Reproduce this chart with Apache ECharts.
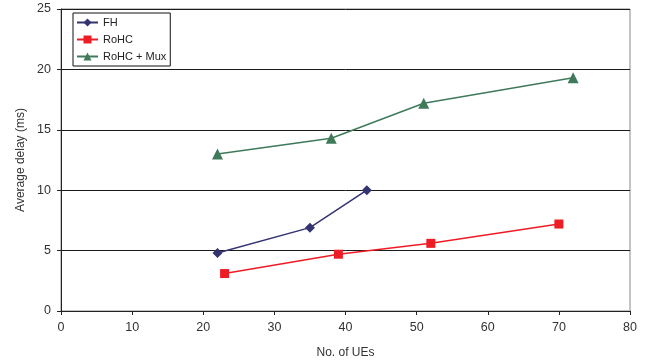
<!DOCTYPE html>
<html>
<head>
<meta charset="utf-8">
<script src="https://cdn.jsdelivr.net/npm/echarts@6/dist/echarts.min.js"></script>
<style>
  html, body { margin: 0; padding: 0; background: #fff; }
  #chart { width: 650px; height: 364px; }
</style>
</head>
<body>
<div id="chart"></div>
<script>
// Average delay versus number of UEs for three header schemes
const seriesNames = ['FH', 'RoHC', 'RoHC + Mux'];
const fhPoints = [[22, 4.8], [35, 6.9], [43, 10.0]];
const rohcPoints = [[23, 3.1], [39, 4.7], [52, 5.6], [70, 7.2]];
const muxPoints = [[22, 13.0], [38, 14.3], [51, 17.2], [72, 19.3]];

const colors = ['#333371', '#ee1c25', '#3f7a5b'];
const symbols = ['diamond', 'rect', 'triangle'];
const symbolSizes = [10, 9, 11];
const font = 'Liberation Sans, Arial, sans-serif';

const chart = echarts.init(document.getElementById('chart'), null, { renderer: 'canvas' });

function lineSeries(i, data) {
  return {
    name: seriesNames[i],
    type: 'line',
    data: data,
    symbol: symbols[i],
    symbolSize: symbolSizes[i],
    showAllSymbol: true,
    lineStyle: { color: colors[i], width: 1.5 },
    itemStyle: { color: colors[i] },
    animation: false
  };
}

chart.setOption({
  animation: false,
  textStyle: { fontFamily: font },
  grid: { left: 61, right: 20, top: 9, bottom: 53, containLabel: false,
          show: true, borderColor: '#888', borderWidth: 1 },
  legend: {
    orient: 'vertical',
    left: 73, top: 13,
    data: seriesNames,
    backgroundColor: '#fff',
    borderColor: '#111', borderWidth: 1,
    padding: [3, 4, 3, 3],
    itemGap: 4,
    itemWidth: 21, itemHeight: 10,
    textStyle: { fontSize: 11, lineHeight: 13, color: '#222', fontFamily: font }
  },
  xAxis: {
    type: 'value', min: 0, max: 80, interval: 10,
    name: 'No. of UEs', nameLocation: 'middle', nameGap: 36,
    nameTextStyle: { fontSize: 12, color: '#333', fontFamily: font },
    axisLine: { show: true, lineStyle: { color: '#222', width: 1 } },
    axisTick: { show: true, length: 4, lineStyle: { color: '#222' } },
    axisLabel: { fontSize: 12.5, color: '#333', margin: 10, fontFamily: font },
    splitLine: { show: false }
  },
  yAxis: {
    type: 'value', min: 0, max: 25, interval: 5,
    name: 'Average delay (ms)', nameLocation: 'middle', nameGap: 32,
    nameTextStyle: { fontSize: 12, color: '#333', fontFamily: font },
    axisLine: { show: true, lineStyle: { color: '#222', width: 1 } },
    axisTick: { show: true, length: 4, lineStyle: { color: '#222' } },
    axisLabel: { fontSize: 12.5, color: '#333', margin: 10, fontFamily: font },
    splitLine: { show: true, lineStyle: { color: '#1a1a1a', width: 1 } }
  },
  series: [
    lineSeries(0, fhPoints),
    lineSeries(1, rohcPoints),
    lineSeries(2, muxPoints)
  ]
});
</script>
</body>
</html>
